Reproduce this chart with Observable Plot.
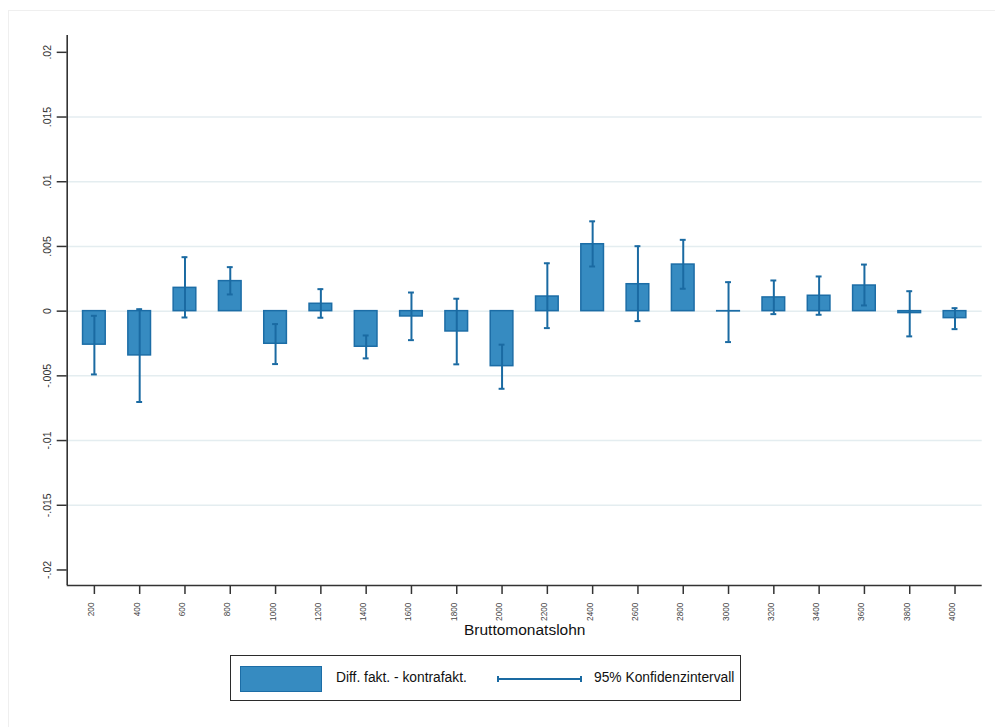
<!DOCTYPE html>
<html>
<head>
<meta charset="utf-8">
<script src="https://cdn.jsdelivr.net/npm/d3@7"></script>
<script src="https://cdn.jsdelivr.net/npm/@observablehq/plot@0.6"></script>
<style>
  html, body { margin: 0; padding: 0; background: #ffffff; }
  body { width: 995px; height: 727px; overflow: hidden; position: relative;
         font-family: "Liberation Sans", Arial, sans-serif; }
  #region { position: absolute; left: 8px; top: 10px; width: 1000px; height: 740px;
            border-left: 1px solid #efefef; border-top: 1px solid #efefef; }
  #chart { position: absolute; left: 0; top: 0; }
  #legend { position: absolute; left: 230px; top: 655px; width: 511px; height: 46px;
            box-sizing: border-box; border: 1.3px solid #2b2b2b; background: #fff; }
  #legend .sw { position: absolute; left: 9px; top: 10px; width: 82px; height: 26px;
                box-sizing: border-box; background: #368bc1; border: 1.5px solid #1c6da6; }
  #legend .lab { position: absolute; top: 0; height: 44px; line-height: 44px;
                 font-size: 13.8px; color: #111; white-space: nowrap; }
  #legend .ln { position: absolute; left: 266px; top: 22px; width: 85px; height: 2px; background: #1a6aa2; }
  #legend .cap { position: absolute; top: 20px; width: 2px; height: 6px; background: #1a6aa2; }
</style>
</head>
<body>
<div id="region"></div>
<div id="chart"></div>
<div id="legend">
  <div class="sw"></div>
  <div class="lab" style="left:105px">Diff. fakt. - kontrafakt.</div>
  <div class="ln"></div>
  <div class="cap" style="left:266px"></div>
  <div class="cap" style="left:349px"></div>
  <div class="lab" style="left:363px">95% Konfidenzintervall</div>
</div>
<script>
// Gross monthly wage bins (Bruttomonatslohn)
const lohn = [200, 400, 600, 800, 1000, 1200, 1400, 1600, 1800, 2000,
              2200, 2400, 2600, 2800, 3000, 3200, 3400, 3600, 3800, 4000];
// Difference factual - counterfactual
const diff = [-0.00259, -0.00342, 0.00180, 0.00232, -0.00252, 0.00057, -0.00275, -0.00041, -0.00157, -0.00425,
              0.00113, 0.00517, 0.00208, 0.00360, -0.00002, 0.00106, 0.00119, 0.00198, -0.00015, -0.00054];
// 95% confidence interval bounds
const ciLo = [-0.00489, -0.00702, -0.00049, 0.00129, -0.00409, -0.00051, -0.00365, -0.00224, -0.00411, -0.00600,
              -0.00131, 0.00345, -0.00077, 0.00173, -0.00239, -0.00023, -0.00028, 0.00044, -0.00195, -0.00139];
const ciHi = [-0.00036, 0.00015, 0.00417, 0.00340, -0.00100, 0.00170, -0.00188, 0.00144, 0.00096, -0.00259,
              0.00370, 0.00694, 0.00502, 0.00551, 0.00224, 0.00237, 0.00268, 0.00360, 0.00154, 0.00023];

// Axis ticks and their labels
const yTicks = [0.02, 0.015, 0.01, 0.005, 0, -0.005, -0.01, -0.015, -0.02];
const yTickLabels = [".02", ".015", ".01", ".005", "0", "-.005", "-.01", "-.015", "-.02"];
const gridTicks = [0.015, 0.01, 0.005, 0, -0.005, -0.01, -0.015];
const xTicks = lohn;

const rows = lohn.map((x, i) => ({x, diff: diff[i], lo: ciLo[i], hi: ciHi[i]}));

const xDomain = [80, 4120];
const yDomain = [-0.0212, 0.0213];
const halfBar = 50;   // bar half-width in wage units
const halfCap = 13;   // CI cap half-width in wage units

const barFill = "#368bc1";
const barStroke = "#1c6da6";
const ciColor = "#1a6aa2";
const axisColor = "#333333";

const chart = Plot.plot({
  width: 995,
  height: 650,
  marginTop: 35,
  marginBottom: 65,
  marginLeft: 66.7,
  marginRight: 13.3,
  x: {type: "linear", domain: xDomain},
  y: {type: "linear", domain: yDomain},
  style: {fontFamily: "'Liberation Sans', Arial, sans-serif", background: "transparent", overflow: "visible"},
  marks: [
    Plot.gridY(gridTicks, {stroke: "#e4edf0", strokeOpacity: 1, strokeWidth: 1.5}),
    Plot.rect(rows, {
      x1: d => d.x - halfBar, x2: d => d.x + halfBar,
      y1: 0, y2: "diff",
      fill: barFill, stroke: barStroke, strokeWidth: 1.5
    }),
    Plot.ruleX(rows, {x: "x", y1: "lo", y2: "hi", stroke: ciColor, strokeWidth: 2}),
    Plot.ruleY(rows, {y: "lo", x1: d => d.x - halfCap, x2: d => d.x + halfCap, stroke: ciColor, strokeWidth: 2}),
    Plot.ruleY(rows, {y: "hi", x1: d => d.x - halfCap, x2: d => d.x + halfCap, stroke: ciColor, strokeWidth: 2}),
    // axis lines
    Plot.ruleX([xDomain[0]], {stroke: axisColor, strokeWidth: 1.6}),
    Plot.ruleY([yDomain[0]], {stroke: axisColor, strokeWidth: 1.6}),
    // ticks
    Plot.axisY({ticks: yTicks, tickSize: 10, tickFormat: () => "", label: null, stroke: axisColor, strokeWidth: 1.5}),
    Plot.axisX({ticks: xTicks, tickSize: 9, tickFormat: () => "", label: null, stroke: axisColor, strokeWidth: 1.5}),
    // tick labels
    Plot.text(yTicks, {
      y: d => d, text: (d, i) => yTickLabels[i],
      frameAnchor: "left", dx: -20, rotate: -90, textAnchor: "middle",
      fontSize: 10.5, fill: "#333"
    }),
    Plot.text(xTicks, {
      x: d => d, text: d => String(d),
      frameAnchor: "bottom", dy: 17, rotate: -90, textAnchor: "end",
      fontSize: 8.3, fill: "#444"
    }),
    Plot.text(["Bruttomonatslohn"], {
      text: d => d, frameAnchor: "bottom", dy: 49, fontSize: 15.5, fill: "#111"
    })
  ]
});

document.getElementById("chart").appendChild(chart);
</script>
</body>
</html>
